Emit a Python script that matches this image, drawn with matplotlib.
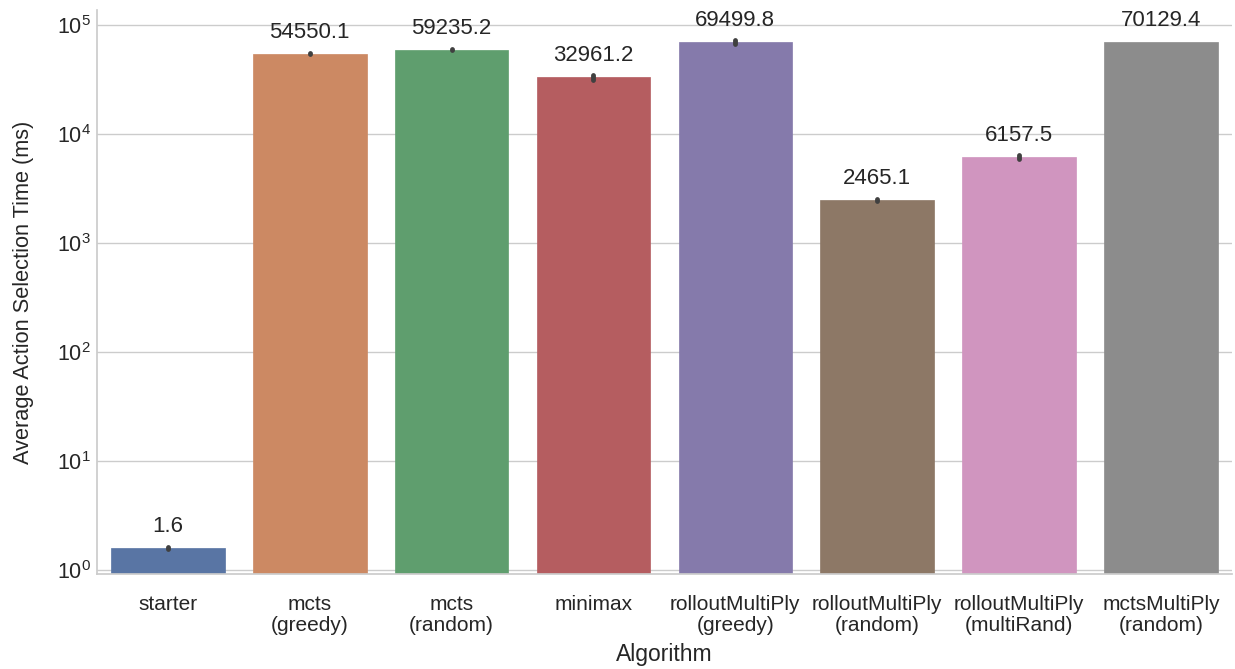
import matplotlib
matplotlib.use("Agg")
import matplotlib.pyplot as plt
import seaborn as sns

# mean action selection time per agent (ms) and the spread of the runs
algorithms = ["starter", "mcts\n(greedy)", "mcts\n(random)", "minimax",
              "rolloutMultiPly\n(greedy)", "rolloutMultiPly\n(random)",
              "rolloutMultiPly\n(multiRand)", "mctsMultiPly\n(random)"]
mean_ms = [1.6, 54550.1, 59235.2, 32961.2, 69499.8, 2465.1, 6157.5, 70129.4]
err_low = [1.57, 54000, 58700, 31200, 66500, 2410, 5850, 70129.4]
err_high = [1.63, 55100, 59800, 34800, 72600, 2520, 6480, 70129.4]

sns.set_theme(style="whitegrid", context="notebook", font_scale=1.4)
plt.rcParams["font.family"] = ["Liberation Sans", "DejaVu Sans"]
plt.rcParams["mathtext.fontset"] = "custom"
plt.rcParams["mathtext.rm"] = "Liberation Sans"
plt.rcParams["mathtext.it"] = "Liberation Sans:italic"

fig = plt.figure(figsize=(12.35, 6.69), dpi=100)
ax = fig.add_axes([0.0785, 0.142, 0.919, 0.843])

colors = [sns.desaturate(c, 0.75) for c in sns.color_palette("deep", len(mean_ms))]
pos = range(len(mean_ms))
ax.bar(pos, mean_ms, width=0.8, color=colors, edgecolor=colors, linewidth=0.5, zorder=2)
for i in pos:
    if err_high[i] > err_low[i]:
        ax.vlines(i, err_low[i], err_high[i], color="#404040", lw=3.5,
                  capstyle="round", zorder=3)
    ax.annotate(f"{mean_ms[i]}", (i, mean_ms[i]), xytext=(0, 15.5),
                textcoords="offset points", ha="center", va="center",
                fontsize=16, color="#262626", zorder=4)

ax.set_yscale("log")
ax.set_ylim(0.92, 1.37e5)
ax.set_xlim(-0.5, len(mean_ms) - 0.5)
ax.set_xticks(list(pos))
ax.set_xticklabels(algorithms, linespacing=1.15)
ax.tick_params(axis="x", labelsize=15, pad=9)
ax.tick_params(axis="y", labelsize=15.5, pad=-1.5)
ax.set_xlabel("Algorithm", fontsize=16.5, labelpad=6)
ax.set_ylabel("Average Action Selection Time (ms)", fontsize=15.7, labelpad=16)
ax.grid(axis="x", visible=False)
ax.set_axisbelow(True)
sns.despine(ax=ax)

fig.savefig("out.png", dpi=100)
